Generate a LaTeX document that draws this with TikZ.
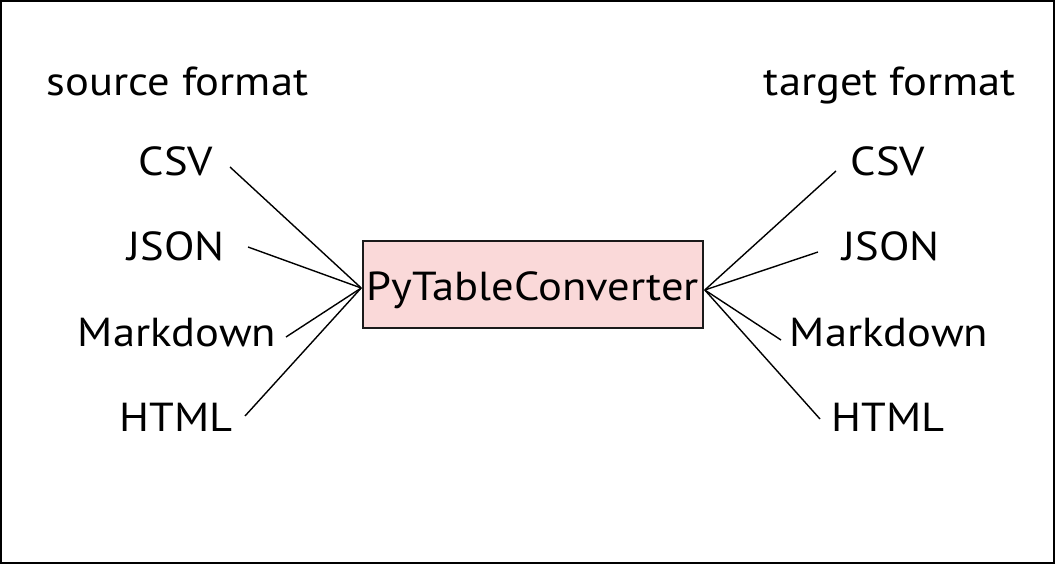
\documentclass[tikz,border=0pt]{standalone}
\usepackage{fontspec}
\setmainfont{PT Sans}[FakeStretch=1.1]
\definecolor{boxfill}{HTML}{FAD9D9}
\definecolor{boxline}{HTML}{1A1A1A}
\begin{document}
\begin{tikzpicture}[x=1pt,y=-1pt,
  lbl/.style={anchor=base,inner sep=0pt,font=\fontsize{40.5}{48}\selectfont},
  conv/.style={draw=boxline,fill=boxfill,line width=1.6pt,minimum width=340pt,minimum height=87pt,inner sep=0pt,text height=31pt,text depth=0pt,font=\fontsize{40.5}{48}\selectfont},
  link/.style={line width=1.4pt,black}]
\useasboundingbox (0,0) rectangle (1055,564);
\draw[line width=2pt] (1,1) rectangle (1054,563);

\node[lbl] (srcT) at (177.5,96) {source format};
\node[lbl] (tgtT) at (890,96) {target format};

\node[lbl] (sCSV) at (176,176) {CSV};
\node[lbl] (sJSON) at (176,261) {JSON};
\node[lbl] (sMD) at (177,346) {Markdown};
\node[lbl] (sHTML) at (176,431) {HTML};

\node[lbl] (tCSV) at (888,176) {CSV};
\node[lbl] (tJSON) at (891,261) {JSON};
\node[lbl] (tMD) at (889,346) {Markdown};
\node[lbl] (tHTML) at (888,431) {HTML};

\node[conv] (box) at (533,284.5) {PyTableConverter};

\coordinate (lc1) at (230,167);
\coordinate (lc2) at (248,247);
\coordinate (lc3) at (286,337);
\coordinate (lc4) at (245,416);
\coordinate (rc1) at (836,171);
\coordinate (rc2) at (818,252);
\coordinate (rc3) at (781,340);
\coordinate (rc4) at (820,419);

\coordinate (inL) at ([xshift=-1pt,yshift=-3.5pt]box.west);
\coordinate (outR) at ([xshift=1pt,yshift=-5.5pt]box.east);

\foreach \c in {lc1,lc2,lc3,lc4} \draw[link] (\c) -- (inL);
\foreach \c in {rc1,rc2,rc3,rc4} \draw[link] (outR) -- (\c);
\end{tikzpicture}
\end{document}
